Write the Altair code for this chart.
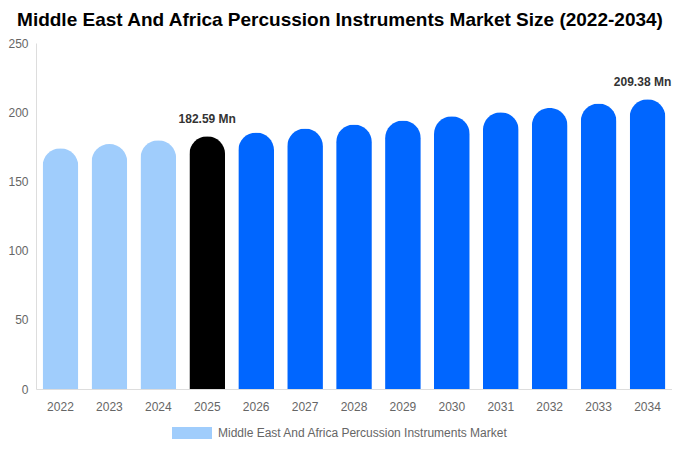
import altair as alt
import pandas as pd

years = ["2022", "2023", "2024", "2025", "2026", "2027", "2028", "2029", "2030", "2031", "2032", "2033", "2034"]
values = [174.0, 177.0, 179.8, 182.59, 185.4, 188.2, 191.1, 194.0, 197.0, 200.0, 203.1, 206.2, 209.38]
labels = ["", "", "", "182.59 Mn", "", "", "", "", "", "", "", "", "209.38 Mn"]
series = "Middle East And Africa Percussion Instruments Market"
groups = [series, series, series, "Base year", "Forecast", "Forecast", "Forecast", "Forecast",
          "Forecast", "Forecast", "Forecast", "Forecast", "Forecast"]

df = pd.DataFrame({"year": years, "value": values, "label": labels, "group": groups})

FONT = "Liberation Sans"

x = alt.X("year:N", title=None, scale=alt.Scale(paddingInner=0.27, paddingOuter=0.135),
          axis=alt.Axis(labelAngle=0, ticks=False, domainColor="#dddddd", labelColor="#666666",
                        labelFontSize=12, labelPadding=12, labelFont=FONT))
y = alt.Y("value:Q", title=None, scale=alt.Scale(domain=[0, 250], nice=False),
          axis=alt.Axis(values=[0, 50, 100, 150, 200, 250], ticks=False, grid=False,
                        domainColor="#dddddd", labelColor="#666666", labelFontSize=12,
                        labelPadding=8, labelFont=FONT))

color = alt.Color("group:N", title=None,
                  scale=alt.Scale(domain=[series, "Base year", "Forecast"],
                                  range=["#a0cdfc", "#000000", "#0066ff"]),
                  legend=alt.Legend(orient="none", legendX=136, legendY=378, values=[series],
                                    symbolType="M-1,-0.5H2.333V0.5H-1Z",
                                    symbolSize=576, symbolStrokeWidth=0, padding=0,
                                    labelOffset=22, labelLimit=0,
                                    labelFont=FONT, labelFontSize=12, labelColor="#666666"))

bars = alt.Chart(df).mark_bar(cornerRadiusTopLeft=18, cornerRadiusTopRight=18).encode(
    x=x, y=y, color=color)

text_mid = alt.Chart(df).transform_filter(
    (alt.datum.label != "") & (alt.datum.year != "2034")
).mark_text(
    dy=-10, fontWeight="bold", fontSize=12, color="#333333", font=FONT, baseline="bottom"
).encode(x=alt.X("year:N"), y=alt.Y("value:Q"), text="label:N")

text_end = alt.Chart(df).transform_filter(
    (alt.datum.label != "") & (alt.datum.year == "2034")
).mark_text(
    dy=-10, dx=-5, fontWeight="bold", fontSize=12, color="#333333", font=FONT, baseline="bottom"
).encode(x=alt.X("year:N"), y=alt.Y("value:Q"), text="label:N")

chart = alt.layer(bars, text_mid, text_end).properties(
    width=636, height=346,
    autosize=alt.AutoSizeParams(type="none"),
    padding={"left": 28, "top": 35, "right": 0, "bottom": 60},
    title=alt.Title("Middle East And Africa Percussion Instruments Market Size (2022-2034)",
                    fontSize=19, fontWeight="bold", font=FONT, color="#000000",
                    anchor="middle", frame="bounds", offset=7)
).configure_view(stroke=None)

chart.save("out.html", embed_options={"renderer": "svg", "actions": False})
